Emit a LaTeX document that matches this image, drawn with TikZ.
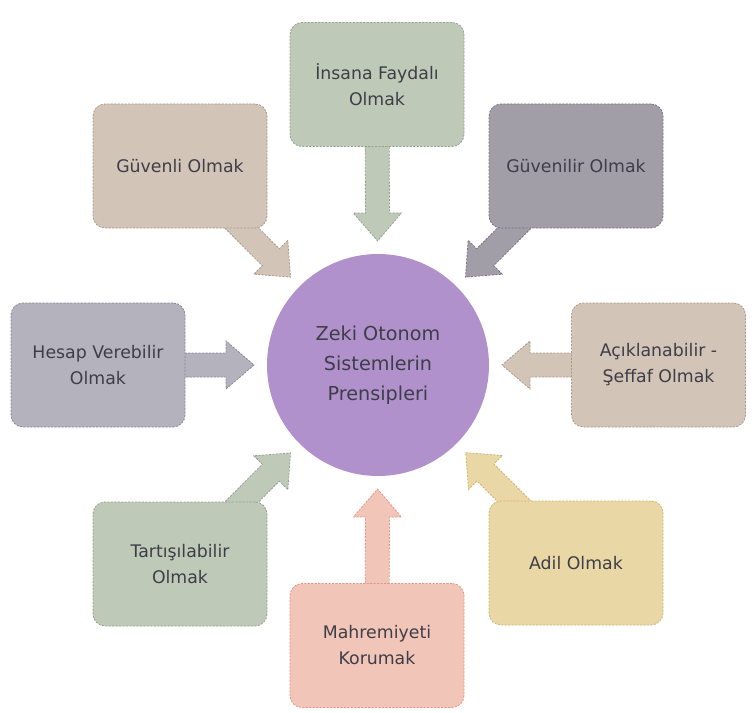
\documentclass[tikz,border=0pt]{standalone}
\usepackage{fontspec}
\setmainfont{DejaVu Sans}
\definecolor{corepurple}{RGB}{176, 145, 203}
\definecolor{inkgray}{RGB}{62, 62, 72}
\definecolor{sage}{RGB}{191, 201, 184}
\definecolor{sageline}{RGB}{150, 162, 142}
\definecolor{sand}{RGB}{211, 196, 184}
\definecolor{sandline}{RGB}{172, 154, 140}
\definecolor{slate}{RGB}{161, 158, 168}
\definecolor{slateline}{RGB}{122, 118, 131}
\definecolor{lilac}{RGB}{180, 178, 189}
\definecolor{lilacline}{RGB}{138, 135, 150}
\definecolor{wheat}{RGB}{234, 215, 166}
\definecolor{wheatline}{RGB}{206, 182, 120}
\definecolor{salmon}{RGB}{242, 197, 185}
\definecolor{salmonline}{RGB}{226, 150, 134}
\usetikzlibrary{calc, backgrounds}

% block arrow from a box to a tip coordinate
\newcommand{\blockarrow}[3]{%
  \path ($(#2)!21pt!(#1.center)$) coordinate (hb);
  \draw[arrowbody=#3] ($(#1.center)!9pt!90:(#2)$) -- ($(hb)!9pt!90:(#2)$)
    -- ($(hb)!18pt!90:(#2)$) -- (#2) -- ($(hb)!18pt!-90:(#2)$)
    -- ($(hb)!9pt!-90:(#2)$) -- ($(#1.center)!9pt!-90:(#2)$) -- cycle;
}

\begin{document}
\begin{tikzpicture}[x=0.75pt, y=-0.75pt,
  box/.style={rectangle, rounded corners=9pt, minimum width=130.5pt, minimum height=93pt,
    align=center, text=inkgray, font=\fontsize{13}{19.5}\selectfont,
    fill=#1, draw=#1line, dash pattern=on 1.6pt off 1pt, line width=0.6pt},
  arrowbody/.style={fill=#1, draw=#1line, dash pattern=on 1.6pt off 1pt, line width=0.6pt}]
  \useasboundingbox (0, 0) rectangle (756, 713);

  % Centre circle
  \node[circle, fill=corepurple, minimum size=166.5pt, inner sep=0pt, align=center,
    text=inkgray, font=\fontsize{14.4}{22.5}\selectfont] (core) at (378, 365)
    {Zeki Otonom\\Sistemlerin\\Prensipleri};

  % Principle boxes
  \node[box=sage] (ins) at (377, 84.5) {İnsana Faydalı\\Olmak};
  \node[box=sand] (guv) at (180, 166) {Güvenli Olmak};
  \node[box=slate] (gvr) at (576, 166) {Güvenilir Olmak};
  \node[box=lilac] (hes) at (98, 365) {Hesap Verebilir\\Olmak};
  \node[box=sand] (acik) at (658.5, 365) {Açıklanabilir -\\Şeffaf Olmak};
  \node[box=sage] (tart) at (180, 564) {Tartışılabilir\\Olmak};
  \node[box=wheat] (adil) at (576, 563) {Adil Olmak};
  \node[box=salmon] (mahr) at (377, 645.5) {Mahremiyeti\\Korumak};

  % Arrow tips near the circle
  \coordinate (tipN) at ($(core)!93pt!(ins)$);
  \coordinate (tipNW) at ($(core)!93pt!(guv)$);
  \coordinate (tipNE) at ($(core)!93pt!(gvr)$);
  \coordinate (tipW) at ($(core)!93pt!(hes)$);
  \coordinate (tipE) at ($(core)!93pt!(acik)$);
  \coordinate (tipSW) at ($(core)!93pt!(tart)$);
  \coordinate (tipSE) at ($(core)!93pt!(adil)$);
  \coordinate (tipS) at ($(core)!93pt!(mahr)$);

  % Arrows behind the boxes
  \begin{scope}[on background layer]
    \blockarrow{ins}{tipN}{sage}
    \blockarrow{guv}{tipNW}{sand}
    \blockarrow{gvr}{tipNE}{slate}
    \blockarrow{hes}{tipW}{lilac}
    \blockarrow{acik}{tipE}{sand}
    \blockarrow{tart}{tipSW}{sage}
    \blockarrow{adil}{tipSE}{wheat}
    \blockarrow{mahr}{tipS}{salmon}
  \end{scope}
\end{tikzpicture}
\end{document}
